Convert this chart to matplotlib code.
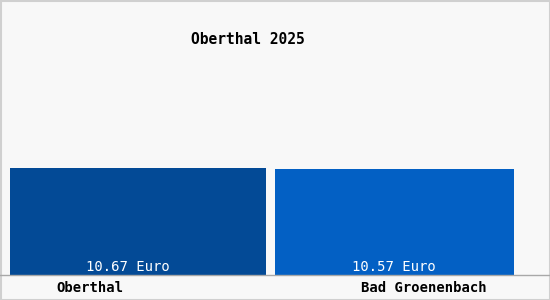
import matplotlib
matplotlib.use("Agg")
import matplotlib.pyplot as plt
from matplotlib.patches import Rectangle

# data
places = ["Oberthal", "Bad Groenenbach"]
values = [10.67, 10.57]
value_labels = ["10.67 Euro", "10.57 Euro"]
title = "Oberthal 2025"

# layout (pixel units)
W, H = 550, 300
bar_left = [10, 275]
bar_width = [256, 239]
colors = ["#034a96", "#0360c4"]
base_px = 25          # baseline height from the bottom
px_per_unit = 10.03

fig = plt.figure(figsize=(W / 100, H / 100), dpi=100, facecolor="#f8f8f8")
ax = fig.add_axes([0, base_px / H, 1, (H - base_px) / H])
ax.set_xlim(0, W)
ax.set_ylim(0, (H - base_px) / px_per_unit)
ax.axis("off")

ax.bar(bar_left, values, width=bar_width, align="edge", color=colors)

font = "DejaVu Sans Mono"
label_x = [128, 394]
for x, lab in zip(label_x, value_labels):
    ax.text(x, 0.05, lab, ha="center", va="bottom", color="white",
            fontsize=10, family=font)

# baseline
fig.add_artist(plt.Line2D([0, 1], [base_px / H, base_px / H],
                          color="#a8a8a8", lw=1))

name_x = [90, 424]
for x, name in zip(name_x, places):
    fig.text(x / W, (H - 288) / H, name, ha="center", va="center",
             fontsize=10, family=font, color="black", weight="bold")

fig.text(248 / W, (H - 39) / H, title, ha="center", va="center",
         fontsize=10.5, family=font, color="black", weight="bold")

# outer border
fig.add_artist(Rectangle((0.5 / W, 0.5 / H), 1 - 1 / W, 1 - 1 / H,
                         transform=fig.transFigure, fill=False,
                         edgecolor="#d0d0d0", lw=1.5))

fig.savefig("out.png", dpi=100, facecolor=fig.get_facecolor())
